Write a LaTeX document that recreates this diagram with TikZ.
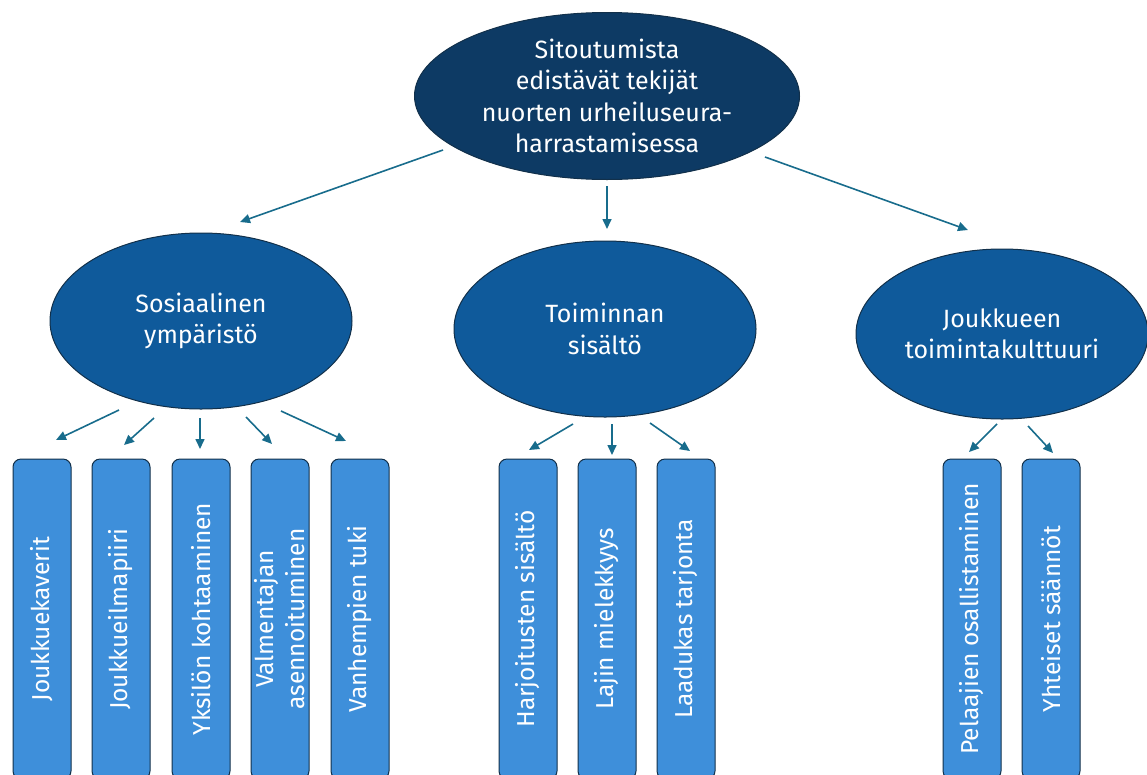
\documentclass[tikz,border=0pt]{standalone}
\usepackage{fontspec}
\setmainfont{Fira Sans}
\usetikzlibrary{shapes.geometric,arrows.meta}
\definecolor{navy}{HTML}{0D3A64}
\definecolor{midblue}{HTML}{0F5A9B}
\definecolor{boxblue}{HTML}{3E8FDA}
\definecolor{edgedark}{HTML}{12304A}
\definecolor{arrowc}{HTML}{186C8C}
\tikzset{
  txt/.style={text=white, align=center, font=\fontsize{25}{31.5}\selectfont},
  topell/.style={ellipse, draw=edgedark, line width=1pt, fill=navy, inner sep=0pt,
    minimum width=385pt, minimum height=167pt, txt},
  midell/.style={ellipse, draw=edgedark, line width=1pt, fill=midblue, inner sep=0pt,
    minimum width=302pt, minimum height=176pt, txt},
  leafbox/.style={rectangle, rounded corners=8pt, draw=edgedark, line width=1pt,
    fill=boxblue, minimum width=58pt, minimum height=320pt, inner sep=0pt},
  leaftxt/.style={rotate=90, text=white, align=center, font=\fontsize{24.5}{31}\selectfont},
  conn/.style={draw=arrowc, line width=1.6pt,
    -{Triangle[length=10pt,width=9pt]}}
}
\begin{document}
\begin{tikzpicture}[x=1pt,y=-1pt]
\useasboundingbox (0,0) rectangle (1147,774);
\clip (0,0) rectangle (1147,774);

% ellipses
\node[topell] (top) at (607,96) {Sitoutumista\\edistävät tekijät\\nuorten urheiluseura-\\harrastamisessa};
\node[midell] (sos) at (201,321) {Sosiaalinen\\ympäristö};
\node[midell] (toi) at (605,329) {Toiminnan\\sisältö};
\node[midell, minimum width=292pt, minimum height=170pt] (jou) at (1002,334) {Joukkueen\\toimintakulttuuri};

% boxes
\foreach \n/\x in {b1/42, b2/121, b3/201, b4/280, b5/360, c1/528, c2/607, c3/686, d1/972, d2/1051}
  \node[leafbox] (\n) at (\x,619) {};

\node[leaftxt] (t1) at (b1) {Joukkuekaverit};
\node[leaftxt] (t2) at (b2) {Joukkueilmapiiri};
\node[leaftxt] (t3) at (b3) {Yksilön kohtaaminen};
\node[leaftxt] (t4) at (b4) {Valmentajan\\asennoituminen};
\node[leaftxt] (t5) at (b5) {Vanhempien tuki};
\node[leaftxt] (t6) at (c1) {Harjoitusten sisältö};
\node[leaftxt] (t7) at (c2) {Lajin mielekkyys};
\node[leaftxt] (t8) at (c3) {Laadukas tarjonta};
\node[leaftxt] (t9) at (d1) {Pelaajien osallistaminen};
\node[leaftxt] (t10) at (d2) {Yhteiset säännöt};

% connector end points
\coordinate (s1) at (443,150); \coordinate (e1) at (240,222);
\coordinate (s2) at (607,186); \coordinate (e2) at (607,229);
\coordinate (s3) at (765,157); \coordinate (e3) at (968,230);

\coordinate (sa1) at (119,410); \coordinate (ea1) at (56,440);
\coordinate (sa2) at (154,418); \coordinate (ea2) at (124,445);
\coordinate (sa3) at (200,418); \coordinate (ea3) at (200,449);
\coordinate (sa4) at (246,417); \coordinate (ea4) at (272,444);
\coordinate (sa5) at (281,411); \coordinate (ea5) at (346,441);

\coordinate (sb1) at (573,424); \coordinate (eb1) at (529,450);
\coordinate (sb2) at (612,424); \coordinate (eb2) at (612,455);
\coordinate (sb3) at (650,423); \coordinate (eb3) at (690,451);

\coordinate (sc1) at (997,424); \coordinate (ec1) at (969,452);
\coordinate (sc2) at (1028,426); \coordinate (ec2) at (1053,453);

\foreach \a/\b in {s1/e1, s2/e2, s3/e3, sa1/ea1, sa2/ea2, sa3/ea3, sa4/ea4, sa5/ea5,
  sb1/eb1, sb2/eb2, sb3/eb3, sc1/ec1, sc2/ec2}
  \draw[conn] (\a) -- (\b);
\end{tikzpicture}
\end{document}
